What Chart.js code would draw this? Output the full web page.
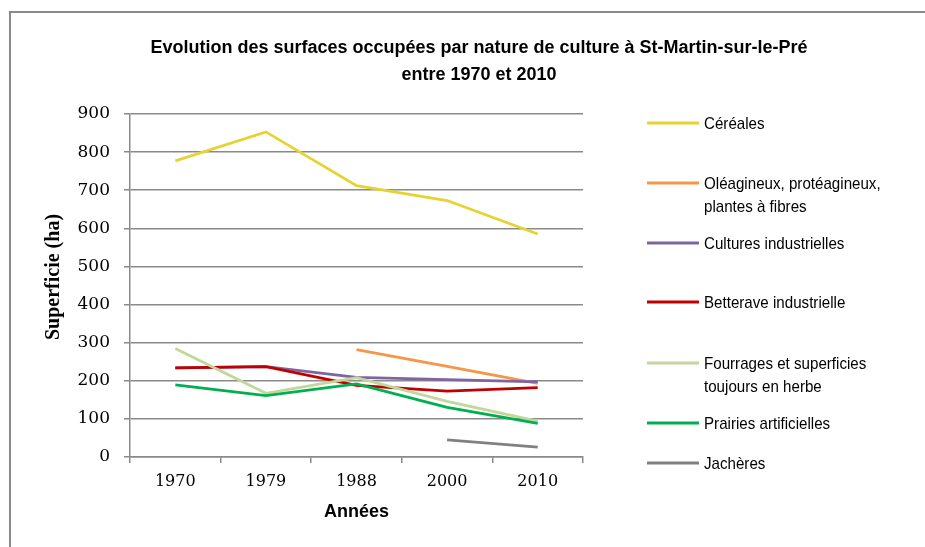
<!DOCTYPE html>
<html>
<head>
<meta charset="utf-8">
<script src="https://cdn.jsdelivr.net/npm/chart.js@4"></script>
<style>
  body { margin: 0; background: #fff; }
  #wrap { width: 925px; height: 547px; position: relative; }
</style>
</head>
<body>
<div id="wrap"><canvas id="myChart"></canvas></div>
<script>
// data
const years = ['1970', '1979', '1988', '2000', '2010'];
const cereales = [777, 853, 712, 673, 585];
const oleagineux = [null, null, 282, 238, 193];
const culturesInd = [234, 237, 209, 203, 197];
const betterave = [234, 237, 188, 173, 182];
const fourrages = [285, 167, 208, 146, 94];
const prairies = [189, 161, 192, 130, 88];
const jacheres = [null, null, null, 45, 26];
const yTicks = [0, 100, 200, 300, 400, 500, 600, 700, 800, 900];

const seriesNames = [
  'Céréales',
  'Oléagineux, protéagineux, plantes à fibres',
  'Cultures industrielles',
  'Betterave industrielle',
  'Fourrages et superficies toujours en herbe',
  'Prairies artificielles',
  'Jachères'
];
const seriesValues = [cereales, oleagineux, culturesInd, betterave, fourrages, prairies, jacheres];
const seriesColors = ['#e6d332', '#f79646', '#8064a2', '#c00000', '#c3d69b', '#00b050', '#808080'];

const titleLines = ['Evolution des surfaces occupées par nature de culture à St-Martin-sur-le-Pré', 'entre 1970 et 2010'];
const yTitle = 'Superficie (ha)';

const GRID = '#8a8a8a';
const sans = '"Liberation Sans", Arial, sans-serif';
const NARROW = 0.89; // the original uses a condensed face, squeeze the text a bit

// frame, titles and legend drawn by hand (legend entries wrap like the original)
const decor = {
  id: 'decor',
  afterDraw(chart) {
    const c = chart.ctx;
    c.save();
    // frame
    c.strokeStyle = '#8a8a8a';
    c.lineWidth = 2;
    c.beginPath();
    c.moveTo(10, 547);
    c.lineTo(10, 12);
    c.lineTo(925, 12);
    c.stroke();

    // title
    c.fillStyle = '#000';
    c.font = 'bold 18px ' + sans;
    c.textAlign = 'center';
    c.textBaseline = 'alphabetic';
    c.fillText(titleLines[0], 479, 53);
    c.fillText(titleLines[1], 479, 80);

    // y axis title, sits a little above the middle of the plot in the original
    c.save();
    c.translate(54, 277);
    c.rotate(-Math.PI / 2);
    c.font = 'bold 20px "Liberation Serif", serif';
    c.textBaseline = 'middle';
    c.fillText(yTitle, 0, 0);
    c.restore();

    // legend
    const legendY = [123, 183, 243, 302, 363, 423, 463];
    c.font = '17px ' + sans;
    c.textAlign = 'left';
    c.textBaseline = 'middle';
    chart.data.datasets.forEach((ds, i) => {
      const y = legendY[i];
      c.strokeStyle = ds.borderColor;
      c.lineWidth = 3;
      c.beginPath();
      c.moveTo(647, y);
      c.lineTo(699, y);
      c.stroke();
      // word wrap
      const words = ds.label.split(' ');
      let line = '', lines = [];
      words.forEach(w => {
        const test = line ? line + ' ' + w : w;
        if (c.measureText(test).width * NARROW > 182 && line) { lines.push(line); line = w; }
        else line = test;
      });
      lines.push(line);
      c.fillStyle = '#000';
      lines.forEach((l, k) => {
        c.save();
        c.translate(704, y + 1 + k * 23);
        c.scale(NARROW, 1);
        c.fillText(l, 0, 0);
        c.restore();
      });
    });
    c.restore();
  }
};

const ctx = document.getElementById('myChart');

new Chart(ctx, {
  type: 'line',
  data: {
    labels: years,
    datasets: seriesNames.map((name, i) => ({
      label: name,
      data: seriesValues[i],
      borderColor: seriesColors[i],
      backgroundColor: seriesColors[i],
      borderWidth: 2.8,
      pointRadius: 0,
      tension: 0,
      order: -i
    }))
  },
  options: {
    responsive: true,
    maintainAspectRatio: false,
    animation: false,
    layout: { padding: { left: 0, top: 114, right: 342, bottom: 20 } },
    plugins: {
      legend: { display: false },
      tooltip: { enabled: false }
    },
    scales: {
      x: {
        offset: true,
        afterFit(scale) { scale.height = 70; },
        grid: {
          offset: true,
          drawOnChartArea: false,
          drawTicks: true,
          tickLength: 6,
          color: GRID,
          lineWidth: 1.5
        },
        border: { color: GRID, width: 1.5 },
        ticks: {
          color: '#000',
          padding: 9,
          font: { family: '"DejaVu Serif", serif', size: 16 }
        },
        title: {
          display: true,
          text: 'Années',
          color: '#000',
          padding: { top: 0, bottom: 4 },
          font: { family: sans, size: 18, weight: 'bold' }
        }
      },
      y: {
        min: yTicks[0],
        max: yTicks[yTicks.length - 1],
        afterFit(scale) { scale.width = 130; },
        afterBuildTicks(scale) { scale.ticks = yTicks.map(v => ({ value: v })); },
        grid: {
          color: GRID,
          lineWidth: 1.5,
          tickLength: 6
        },
        border: { color: GRID, width: 1.5 },
        ticks: {
          color: '#000',
          padding: 14,
          font: { family: '"DejaVu Serif", serif', size: 17 }
        }
      }
    }
  },
  plugins: [decor]
});
</script>
</body>
</html>
